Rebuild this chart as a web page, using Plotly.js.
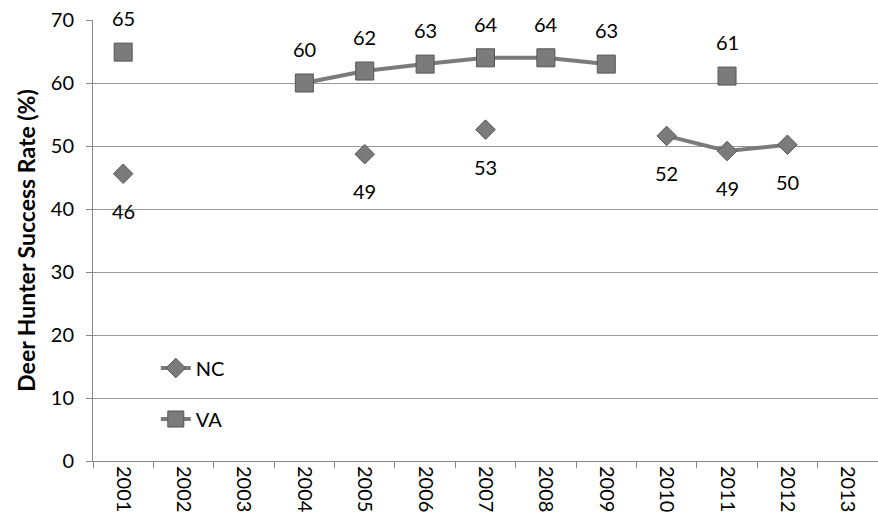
<!DOCTYPE html>
<html>
<head>
<meta charset="utf-8">
<script src="https://cdn.plot.ly/plotly-3.0.1.min.js"></script>
<style>html,body{margin:0;padding:0;background:#fff;}#chart{width:878px;height:531px;}</style>
</head>
<body>
<div id="chart"></div>
<script>
var years = ["2001","2002","2003","2004","2005","2006","2007","2008","2009","2010","2011","2012","2013"];
var ncValues = [45.6, null, null, null, 48.7, null, 52.6, null, null, 51.6, 49.2, 50.2, null];
var vaValues = [64.9, null, null, 60.0, 61.9, 63.0, 64.0, 64.0, 63.0, null, 61.1, null, null];
var yTicks = [0, 10, 20, 30, 40, 50, 60, 70];

var FONT = "Lato, 'Open Sans', sans-serif";
var GRAY = "#7b7b7b";

var nc = {
  x: years, y: ncValues, name: "NC", type: "scatter", mode: "lines+markers",
  connectgaps: false, legendgroup: "nc",
  line: {color: GRAY, width: 4},
  marker: {symbol: "diamond", size: 15, color: GRAY, line: {color: "#555", width: 1}},
  cliponaxis: false
};
var va = {
  x: years, y: vaValues, name: "VA", type: "scatter", mode: "lines+markers",
  connectgaps: false, legendgroup: "va",
  line: {color: GRAY, width: 4},
  marker: {symbol: "square", size: 18, color: GRAY, line: {color: "#555", width: 1}},
  cliponaxis: false
};

var annotations = [];
function addLabels(vals, shift) {
  for (var i = 0; i < years.length; i++) {
    if (vals[i] === null) continue;
    annotations.push({
      x: i, y: vals[i], xref: "x", yref: "y",
      text: String(Math.round(vals[i])), showarrow: false,
      yshift: shift, font: {family: FONT, size: 20, color: "#000"}
    });
  }
}
addLabels(vaValues, 34);
addLabels(ncValues, -37);

var layout = {
  width: 878, height: 531,
  margin: {l: 93, r: 0, t: 20, b: 70},
  paper_bgcolor: "#fff", plot_bgcolor: "#fff",
  font: {family: FONT, size: 20, color: "#000"},
  showlegend: true,
  legend: {x: 0.08, y: 0.255, xanchor: "left", yanchor: "top", bgcolor: "rgba(0,0,0,0)",
           font: {family: FONT, size: 20, color: "#000"}, traceorder: "grouped", tracegroupgap: 22},
  annotations: annotations,
  xaxis: {
    type: "category", range: [-0.5, 12.5], tickangle: 90,
    tickson: "boundaries", ticks: "outside", ticklen: 6, tickcolor: "#888",
    showline: true, linecolor: "#888", linewidth: 1, showgrid: false, zeroline: false,
    tickfont: {family: FONT, size: 20, color: "#000"}
  },
  yaxis: {
    range: [0, 70], tickvals: yTicks, ticks: "outside", ticklen: 6, tickcolor: "#888",
    ticklabelstandoff: 8,
    showline: true, linecolor: "#888", linewidth: 1,
    showgrid: true, gridcolor: "#999", gridwidth: 1, zeroline: false,
    tickfont: {family: FONT, size: 20, color: "#000"},
    title: {text: "<b>Deer Hunter Success Rate (%)</b>", font: {family: FONT, size: 23, color: "#000"}, standoff: 8}
  }
};

Plotly.newPlot("chart", [nc, va], layout, {displayModeBar: false, staticPlot: true});
</script>
</body>
</html>
